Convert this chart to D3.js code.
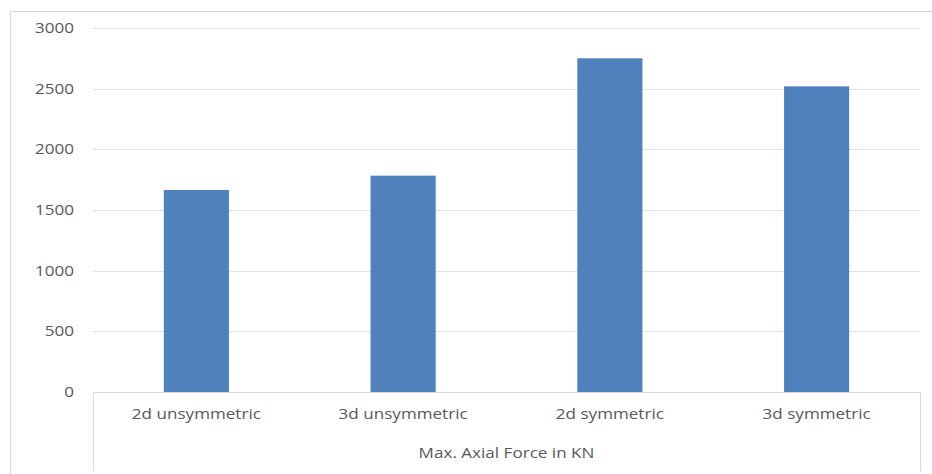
<!DOCTYPE html>
<html>
<head>
<meta charset="utf-8">
<script src="https://cdn.jsdelivr.net/npm/d3@7"></script>
<style>
  html, body { margin: 0; padding: 0; background: #fff; }
  svg { display: block; }
  text { font-family: "Open Sans", "Noto Sans", sans-serif; fill: #595959; }
</style>
</head>
<body>
<svg id="chart" width="932" height="474"></svg>
<script>
// Maximum axial force per model case
const categories = ["2d unsymmetric", "3d unsymmetric", "2d symmetric", "3d symmetric"];
const values = [1665, 1783, 2750, 2519];
const yTicks = [0, 500, 1000, 1500, 2000, 2500, 3000];
const groupLabel = "Max. Axial Force in KN";

const svg = d3.select("#chart");
const plotLeft = 93, plotRight = 920, plotTop = 28, plotBottom = 392;
const fontSize = "14px";
const stretch = 1.22; // labels are set wide

// Chart frame
svg.append("path")
  .attr("d", "M10.5,474 V11.5 H932")
  .attr("fill", "none")
  .attr("stroke", "#d9d9d9")
  .attr("stroke-width", 1);

const x = d3.scaleBand().domain(categories).range([plotLeft, plotRight]).paddingInner(0.685).paddingOuter(0.3425);
const y = d3.scaleLinear().domain([0, 3000]).range([plotBottom, plotTop]);

// Horizontal gridlines
svg.append("g")
  .selectAll("line")
  .data(yTicks.filter(d => d > 0))
  .join("line")
  .attr("x1", plotLeft).attr("x2", plotRight)
  .attr("y1", d => Math.round(y(d)) + 0.5).attr("y2", d => Math.round(y(d)) + 0.5)
  .attr("stroke", "#e3e3e3");

// Value axis labels
const yAxis = d3.axisLeft(y).tickValues(yTicks).tickSize(0).tickFormat(d3.format("d"));
const gy = svg.append("g").attr("transform", `translate(${plotLeft},0)`).call(yAxis);
gy.select(".domain").remove();
gy.selectAll("text")
  .attr("x", 0)
  .attr("transform", `translate(-19,0) scale(${stretch},1)`)
  .style("font-size", fontSize)
  .attr("fill", "#595959");

// Bars
svg.append("g")
  .selectAll("rect")
  .data(categories)
  .join("rect")
  .attr("x", d => x(d))
  .attr("width", x.bandwidth())
  .attr("y", (d, i) => y(values[i]))
  .attr("height", (d, i) => plotBottom - y(values[i]))
  .attr("fill", "#4f81bd");

// Category axis box (multi-level)
svg.append("path")
  .attr("d", `M${plotLeft + 0.5},471 V${plotBottom + 0.5} H${plotRight + 0.5} V471`)
  .attr("fill", "none")
  .attr("stroke", "#d9d9d9");

const xAxis = d3.axisBottom(x).tickSize(0);
const gx = svg.append("g").attr("transform", `translate(0,${plotBottom})`).call(xAxis);
gx.select(".domain").remove();
gx.selectAll("text")
  .attr("y", 0)
  .attr("dy", null)
  .attr("transform", `translate(0,27) scale(${stretch},1)`)
  .style("font-size", fontSize)
  .attr("fill", "#595959");

svg.append("text")
  .attr("transform", `translate(${(plotLeft + plotRight) / 2},458) scale(${stretch},1)`)
  .attr("text-anchor", "middle")
  .style("font-size", fontSize)
  .text(groupLabel);
</script>
</body>
</html>
